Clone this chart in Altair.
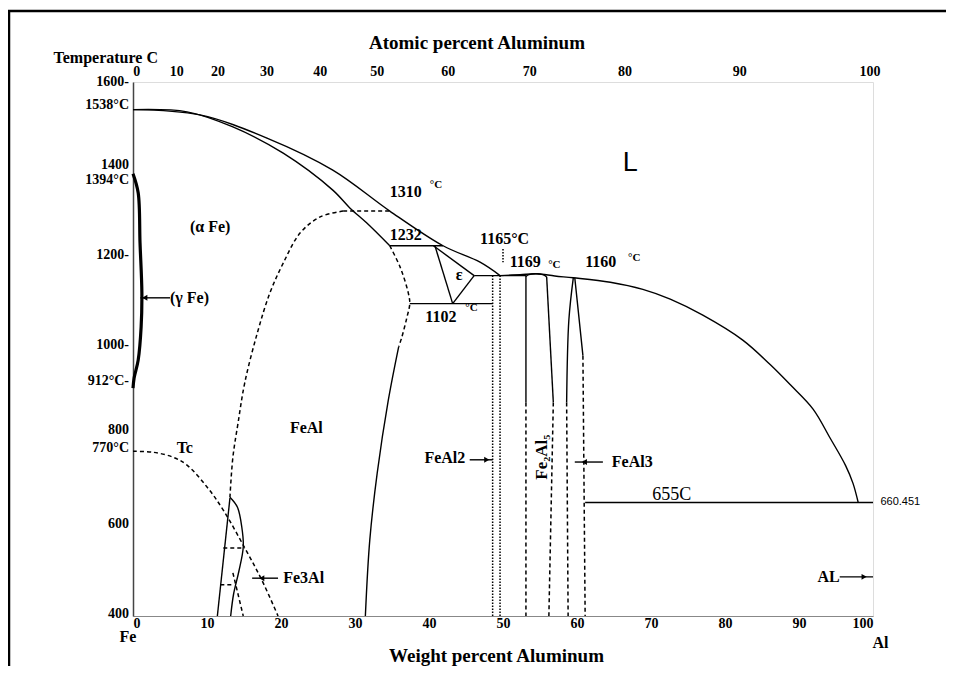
import altair as alt
import pandas as pd

# ---------------- phase-boundary data (weight % Al, temperature °C) ----------------
LIQ_LEFT_W = [0, 9.05, 18.1, 27.0, 34.7, 41.9, 46.9, 49.6]
LIQ_LEFT_T = [1538, 1526, 1474, 1402, 1310, 1232, 1195, 1165]
LIQ_RIGHT_W = [49.6, 52.3, 54.6, 57.0, 59.5, 64.5, 68.9, 72.6, 77.0, 82.4, 86.1, 88.8, 91.9, 94.2, 96.3, 97.3, 98.0]
LIQ_RIGHT_T = [1165, 1167, 1169, 1164, 1160, 1150, 1134, 1112, 1076, 1020, 965, 920, 865, 800, 738, 698, 655]
SOLIDUS_W = [0, 7.3, 13.5, 20.3, 27.0, 29.3, 31.6, 34.7]
SOLIDUS_T = [1538, 1533, 1499, 1440, 1357, 1317, 1283, 1232]
GAMMA_W = [0, 0.7, 0.95, 1.2, 1.1, 0.7, 0.15, 0]
GAMMA_T = [1394, 1351, 1238, 1126, 1050, 975, 935, 912]

ISO1232_W = [34.7, 41.9]; ISO1232_T = [1232, 1232]
EPS_LEFT_W = [40.8, 43.2]; EPS_LEFT_T = [1232, 1102]
EPS_TOP_W = [40.6, 46.1]; EPS_TOP_T = [1232, 1165]
EPS_RIGHT_W = [46.1, 43.2]; EPS_RIGHT_T = [1165, 1102]
ISO1165_W = [46.1, 53.1]; ISO1165_T = [1165, 1165]
ISO1102_W = [37.4, 48.6]; ISO1102_T = [1102, 1102]
ISO1310_W = [28.4, 34.7]; ISO1310_T = [1310, 1310]
ISO655_W = [61.1, 100]; ISO655_T = [655, 655]

FEAL_ARC_W = [28.4, 25.3, 22.6, 20.3, 18.5, 16.8, 15.1, 14.2, 13.5, 13.1]
FEAL_ARC_T = [1310, 1297, 1261, 1193, 1126, 1036, 924, 834, 757, 667]
FEAL_UP_W = [34.7, 36.1, 37.2, 37.4, 37.0, 36.3, 35.9]
FEAL_UP_T = [1232, 1184, 1126, 1102, 1070, 1025, 1005]
FEAL_LOW_W = [35.9, 34.5, 33.0, 32.0, 31.4]
FEAL_LOW_T = [1005, 885, 721, 571, 400]

TC_W = [0, 2.7, 5.4, 7.3, 10.0, 12.2, 15.1, 17.4, 19.6]
TC_T = [770, 768, 757, 739, 690, 638, 553, 481, 400]

FE3AL_L_W = [13.1, 11.4]; FE3AL_L_T = [665, 400]
FE3AL_R_W = [13.1, 14.1, 14.7, 14.9, 14.3, 13.6, 13.2]
FE3AL_R_T = [667, 645, 600, 555, 500, 450, 400]
FE3AL_D_W = [13.5, 14.9]; FE3AL_D_T = [497, 400]
FE3AL_H1_W = [12.2, 15.1]; FE3AL_H1_T = [553, 553]
FE3AL_H2_W = [11.8, 13.5]; FE3AL_H2_T = [470, 470]

FE2AL5_L_W = [53.1, 53.1]; FE2AL5_L_T = [1165, 880]
FE2AL5_DOME_W = [53.1, 53.5, 54.4, 55.4, 55.9]; FE2AL5_DOME_T = [1163, 1167, 1169, 1167, 1162]
FE2AL5_R_W = [55.9, 56.8]; FE2AL5_R_T = [1162, 880]
FE2AL5_LL_W = [53.1, 53.1]; FE2AL5_LL_T = [880, 400]
FE2AL5_RL_W = [56.8, 56.2]; FE2AL5_RL_T = [880, 400]
FEAL3_L_W = [59.5, 58.9, 58.6]; FEAL3_L_T = [1160, 1065, 880]
FEAL3_R_W = [59.7, 60.3, 60.8]; FEAL3_R_T = [1160, 1065, 985]
FEAL3_LL_W = [58.6, 58.8]; FEAL3_LL_T = [880, 400]
FEAL3_RL_W = [60.8, 61.1]; FEAL3_RL_T = [985, 400]
FEAL2_A_W = [48.6, 48.6]; FEAL2_A_T = [1165, 400]
FEAL2_B_W = [49.6, 49.6]; FEAL2_B_T = [1165, 400]
TICK1165_W = [50.0, 50.0]; TICK1165_T = [1225, 1195]

# arrows (shaft ends) and arrowheads
ARROW_NAMES = ["gamma", "feal2", "feal3", "fe3al", "al"]
ARROW_W0 = [1.0, 45.5, 59.7, 16.1, 95.5]
ARROW_W1 = [5.0, 48.6, 63.5, 19.6, 100.0]
ARROW_T = [1115, 751, 746, 485, 488]
HEAD_W = [1.6, 47.8, 61.0, 17.4, 98.8]
HEAD_DIR = ["left", "right", "left", "left", "right"]

# ---------------- labels ----------------
LBL_LEFT_TEXT = ["1310", "1232", "1165°C", "1169", "1160", "1102", "FeAl", "Tc",
                 "FeAl3", "Fe3Al", "(α Fe)", "(γ Fe)", "ε"]
LBL_LEFT_W = [34.7, 34.7, 46.9, 50.9, 61.1, 39.5, 21.2, 5.9, 64.7, 20.3, 7.7, 5.0, 43.6]
LBL_LEFT_T = [1353, 1256, 1247, 1196, 1196, 1072, 822, 778, 746, 485, 1274, 1115, 1166]
LBL_RIGHT_TEXT = ["FeAl2", "AL"]
LBL_RIGHT_W = [44.9, 95.5]
LBL_RIGHT_T = [755, 488]
SUP_TEXT = ["°C", "°C", "°C", "°C"]
SUP_W = [40.1, 56.1, 66.9, 44.9]
SUP_T = [1369, 1189, 1205, 1092]

LEFT_TICK_TEXT = ["1600-", "1538°C", "1400", "1394°C", "1200-", "1000-", "912°C-",
                  "800", "770°C", "600", "400"]
LEFT_TICK_T = [1600, 1548, 1413, 1380, 1211, 1009, 928, 818, 778, 607, 404]

ATOMIC_TEXT = ["0", "10", "20", "30", "40", "50", "60", "70", "80", "90", "100"]
ATOMIC_W = [0.5, 5.9, 11.5, 18.1, 25.3, 33.0, 42.6, 53.6, 66.5, 82.0, 99.6]

WEIGHT_TICKS = [0, 10, 20, 30, 40, 50, 60, 70, 80, 90, 100]

# ---------------- build tables ----------------
CURVES = [
    ("liq_left", "solid", LIQ_LEFT_W, LIQ_LEFT_T),
    ("liq_right", "solid", LIQ_RIGHT_W, LIQ_RIGHT_T),
    ("solidus", "solid", SOLIDUS_W, SOLIDUS_T),
    ("iso1232", "solid", ISO1232_W, ISO1232_T),
    ("eps_left", "solid", EPS_LEFT_W, EPS_LEFT_T),
    ("eps_top", "solid", EPS_TOP_W, EPS_TOP_T),
    ("eps_right", "solid", EPS_RIGHT_W, EPS_RIGHT_T),
    ("iso1165", "solid", ISO1165_W, ISO1165_T),
    ("iso1102", "solid", ISO1102_W, ISO1102_T),
    ("iso655", "solid", ISO655_W, ISO655_T),
    ("feal_low", "solid", FEAL_LOW_W, FEAL_LOW_T),
    ("fe3al_l", "solid", FE3AL_L_W, FE3AL_L_T),
    ("fe3al_r", "solid", FE3AL_R_W, FE3AL_R_T),
    ("fe2al5_l", "solid", FE2AL5_L_W, FE2AL5_L_T),
    ("fe2al5_dome", "solid", FE2AL5_DOME_W, FE2AL5_DOME_T),
    ("fe2al5_r", "solid", FE2AL5_R_W, FE2AL5_R_T),
    ("feal3_l", "solid", FEAL3_L_W, FEAL3_L_T),
    ("feal3_r", "solid", FEAL3_R_W, FEAL3_R_T),
    ("feal_arc", "dashed", FEAL_ARC_W, FEAL_ARC_T),
    ("iso1310", "dashed", ISO1310_W, ISO1310_T),
    ("feal_up", "dashed", FEAL_UP_W, FEAL_UP_T),
    ("tc", "dashed", TC_W, TC_T),
    ("fe3al_d", "dashed", FE3AL_D_W, FE3AL_D_T),
    ("fe3al_h1", "dashed", FE3AL_H1_W, FE3AL_H1_T),
    ("fe3al_h2", "dashed", FE3AL_H2_W, FE3AL_H2_T),
    ("fe2al5_ll", "dashed", FE2AL5_LL_W, FE2AL5_LL_T),
    ("fe2al5_rl", "dashed", FE2AL5_RL_W, FE2AL5_RL_T),
    ("feal3_ll", "dashed", FEAL3_LL_W, FEAL3_LL_T),
    ("feal3_rl", "dashed", FEAL3_RL_W, FEAL3_RL_T),
    ("feal2_a", "dotted", FEAL2_A_W, FEAL2_A_T),
    ("feal2_b", "dotted", FEAL2_B_W, FEAL2_B_T),
    ("tick1165", "dotted", TICK1165_W, TICK1165_T),
    ("gamma", "thick", GAMMA_W, GAMMA_T),
]
rows = []
for name, style, ws, ts in CURVES:
    for i, (w, t) in enumerate(zip(ws, ts)):
        rows.append({"curve": name, "style": style, "i": i, "w": w, "T": t})
for name, w0, w1, t in zip(ARROW_NAMES, ARROW_W0, ARROW_W1, ARROW_T):
    rows.append({"curve": "arr_" + name, "style": "solid", "i": 0, "w": w0, "T": t})
    rows.append({"curve": "arr_" + name, "style": "solid", "i": 1, "w": w1, "T": t})
curves_df = pd.DataFrame(rows)

heads_df = pd.DataFrame({"w": HEAD_W, "T": ARROW_T, "dir": HEAD_DIR})

SERIF = "Liberation Serif"
SANS = "Liberation Sans"

X = alt.X("w:Q", scale=alt.Scale(domain=[0, 100], nice=False, zero=False),
          axis=alt.Axis(values=WEIGHT_TICKS, title="Weight percent Aluminum",
                        labelFont=SERIF, labelFontSize=14, labelFontWeight="bold",
                        labelColor="black", labelPadding=0, ticks=False,
                        domainColor="#888", domainWidth=1.2, grid=False,
                        titleFont=SERIF, titleFontSize=19, titleFontWeight="bold",
                        titleColor="black", titleX=363, titleY=39,
                        titleAlign="center", titleBaseline="middle"))
Y = alt.Y("T:Q", scale=alt.Scale(domain=[400, 1600], nice=False, zero=False),
          axis=alt.Axis(labels=False, ticks=False, grid=False, domainColor="#444",
                        domainWidth=1.5, title="Temperature C", titleFont=SERIF,
                        titleFontSize=16, titleFontWeight="bold", titleColor="black",
                        titleAngle=0, titleX=-80, titleY=-25, titleAlign="left",
                        titleBaseline="middle"))

base = alt.Chart(curves_df)


def lines(style, **kw):
    return base.transform_filter(alt.datum.style == style).mark_line(
        color="black", interpolate="catmull-rom", **kw).encode(
        x=X, y=Y, detail="curve:N", order="i:Q")


solid = lines("solid", strokeWidth=1.4)
dashed = lines("dashed", strokeWidth=1.5, strokeDash=[4, 3])
dotted = lines("dotted", strokeWidth=1.5, strokeDash=[1.5, 1.5])
thick = lines("thick", strokeWidth=3.2)

heads_l = alt.Chart(heads_df).transform_filter(alt.datum.dir == "left").mark_point(
    shape="triangle-left", filled=True, color="black", size=35, opacity=1).encode(x=X, y=Y)
heads_r = alt.Chart(heads_df).transform_filter(alt.datum.dir == "right").mark_point(
    shape="triangle-right", filled=True, color="black", size=35, opacity=1).encode(x=X, y=Y)


def texts(txt, ws, ts, **kw):
    df = pd.DataFrame({"txt": txt, "w": ws, "T": ts})
    return alt.Chart(df).mark_text(color="black", **kw).encode(x=X, y=Y, text="txt:N")


lbl_left = texts(LBL_LEFT_TEXT, LBL_LEFT_W, LBL_LEFT_T, font=SERIF, fontSize=16,
                 fontWeight="bold", align="left", baseline="middle")
lbl_right = texts(LBL_RIGHT_TEXT, LBL_RIGHT_W, LBL_RIGHT_T, font=SERIF, fontSize=16,
                  fontWeight="bold", align="right", baseline="middle")
lbl_sup = texts(SUP_TEXT, SUP_W, SUP_T, font=SERIF, fontSize=11, fontWeight="bold",
                align="left", baseline="middle")
lbl_L = texts(["L"], [67.2], [1418], font=SANS, fontSize=27, align="center",
              baseline="middle")
lbl_655 = texts(["655C"], [72.8], [672], font=SERIF, fontSize=18, align="center",
                baseline="middle")
lbl_660 = texts(["660.451"], [101.0], [656], font=SANS, fontSize=11, align="left",
                baseline="middle")
lbl_fe2al5 = texts(["Fe₂Al₅"], [55.3], [757], font=SERIF, fontSize=17,
                   fontWeight="bold", align="center", baseline="middle", angle=270)
lbl_fe = texts(["Fe"], [-0.7], [400], font=SERIF, fontSize=16, fontWeight="bold",
               align="center", baseline="middle", dy=21)
lbl_al = texts(["Al"], [101.0], [400], font=SERIF, fontSize=16, fontWeight="bold",
               align="center", baseline="middle", dy=27)
lbl_yticks = texts(LEFT_TICK_TEXT, [0] * len(LEFT_TICK_TEXT), LEFT_TICK_T, font=SERIF,
                   fontSize=14, fontWeight="bold", align="right", baseline="middle",
                   dx=-4)
lbl_atomic = texts(ATOMIC_TEXT, ATOMIC_W, [1600] * len(ATOMIC_TEXT), font=SERIF,
                   fontSize=14, fontWeight="bold", align="center", baseline="middle",
                   dy=-10)

one = alt.Chart(pd.DataFrame({"k": [0]}))
top_title = one.mark_text(text="Atomic percent Aluminum", font=SERIF, fontSize=19,
                          fontWeight="bold", color="black", align="center",
                          baseline="middle").encode(x=alt.value(344), y=alt.value(-39))
border_left = one.mark_rule(color="black", strokeWidth=2.5).encode(
    x=alt.value(-124), y=alt.value(-72), y2=alt.value(600))
border_top = one.mark_rule(color="black", strokeWidth=2.5).encode(
    x=alt.value(-126), x2=alt.value(815), y=alt.value(-71))

chart = alt.layer(
    solid, dashed, dotted, thick, heads_l, heads_r,
    lbl_left, lbl_right, lbl_sup, lbl_L, lbl_655, lbl_660, lbl_fe2al5, lbl_fe, lbl_al,
    lbl_yticks, lbl_atomic, top_title, border_left, border_top,
).properties(
    width=740, height=534,
    autosize=alt.AutoSizeParams(type="none"),
    padding={"left": 125, "top": 74, "right": 73, "bottom": 50},
).configure_view(stroke="#888", strokeWidth=1).configure(background="white")

chart.save("out.html", embed_options={"renderer": "svg", "actions": False})
